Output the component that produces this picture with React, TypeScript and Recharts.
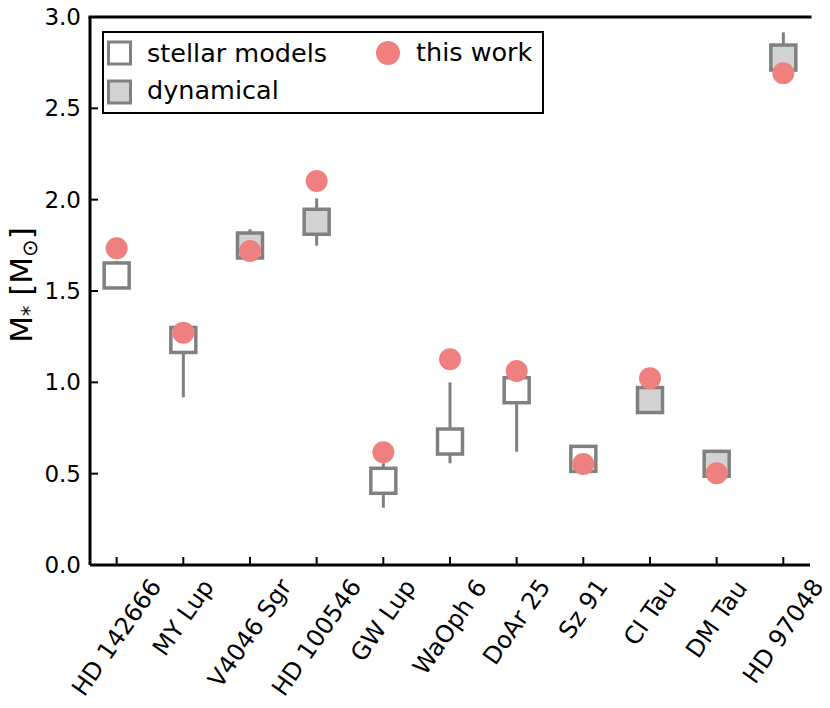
import React from 'react';
import { ComposedChart, ErrorBar, Label, Legend, ReferenceLine, Scatter, XAxis, YAxis } from 'recharts';

const STARS = ['HD 142666', 'MY Lup', 'V4046 Sgr', 'HD 100546', 'GW Lup', 'WaOph 6', 'DoAr 25', 'Sz 91', 'CI Tau', 'DM Tau', 'HD 97048'];
// literature masses and how they were measured
const LIT_MASS = [1.585, 1.232, 1.749, 1.879, 0.461, 0.676, 0.957, 0.581, 0.903, 0.554, 2.778];
const LIT_LOW = [0.05, 0.314, 0.05, 0.131, 0.147, 0.119, 0.337, 0.05, 0.05, 0.05, 0.05];
const LIT_HIGH = [0.08, 0.07, 0.089, 0.128, 0.096, 0.324, 0.05, 0.05, 0.05, 0.05, 0.138];
const LIT_KIND = ['stellar', 'stellar', 'dynamical', 'dynamical', 'stellar', 'stellar', 'stellar', 'stellar', 'dynamical', 'dynamical', 'dynamical'];
const THIS_WORK = [1.734, 1.272, 1.719, 2.102, 0.617, 1.126, 1.062, 0.553, 1.022, 0.502, 2.692];
const Y_TICKS = [0, 0.5, 1, 1.5, 2, 2.5, 3];
const X_TICKS = STARS.map((_, i) => i);

const GRAY = '#808080';
const LIGHT = '#d3d3d3';
const CORAL = '#f08080';
const FONT = '"DejaVu Sans", sans-serif';

const litRows = (kind: string) =>
  LIT_MASS.map((m, i) => ({ idx: i, mass: m, err: [LIT_LOW[i], LIT_HIGH[i]], kind: LIT_KIND[i] })).filter(r => r.kind === kind);
const stellarRows = litRows('stellar');
const dynamicalRows = litRows('dynamical');
const workRows = THIS_WORK.map((m, i) => ({ idx: i, mass: m }));

const squareShape = (fill: string) => (props: any) => {
  const { cx, cy } = props;
  return <rect x={cx - 12.5} y={cy - 12.5} width={25} height={25} fill={fill} stroke={GRAY} strokeWidth={3.5} />;
};
const circleShape = (props: any) => <circle cx={props.cx} cy={props.cy} r={11} fill={CORAL} />;

// rough DejaVu Sans advance widths (em)
const W: Record<string, number> = {
  ' ': 0.318, H: 0.752, D: 0.77, M: 0.863, Y: 0.611, L: 0.557, V: 0.684, S: 0.635, G: 0.775, W: 0.989,
  O: 0.787, A: 0.684, C: 0.698, I: 0.295, T: 0.611, u: 0.634, p: 0.635, g: 0.635, r: 0.411, a: 0.613,
  h: 0.634, o: 0.612, z: 0.525,
};
const textWidth = (s: string, fs: number) => [...s].reduce((a, c) => a + (W[c] ?? 0.636), 0) * fs;

const XTick = (props: any) => {
  const { x, y, payload } = props;
  const name = STARS[payload.value];
  if (!name) return <g />;
  const fs = 24;
  const deg = 55;
  const ang = (deg * Math.PI) / 180;
  const L = textWidth(name, fs);
  const H = L * Math.sin(ang) + fs * Math.cos(ang);
  const cy = y + H / 2;
  return (
    <text x={x} y={cy} textAnchor="middle" dominantBaseline="central" transform={`rotate(-${deg} ${x} ${cy})`}
      fontSize={fs} fontFamily={FONT} fill="#000">
      {name}
    </text>
  );
};

const EmptyTick = () => <g />;

const YLabel = (props: any) => {
  const vb = props.viewBox;
  const x = vb.x + 14;
  const y = vb.y + vb.height / 2 - 6;
  return (
    <text x={x} y={y} transform={`rotate(-90 ${x} ${y})`} textAnchor="middle" fontSize={31} fontFamily={FONT} fill="#000">
      M<tspan fontSize={21} dy={5}>*</tspan>
      <tspan dy={-5}> [M</tspan>
      <tspan fontSize={21} dy={5}>⊙</tspan>
      <tspan dy={-5}>]</tspan>
    </text>
  );
};

const LegendBox = () => (
  <svg width={442} height={83} style={{ display: 'block' }}>
    <rect x={1} y={1} width={440} height={81} fill="#fff" stroke="#000" strokeWidth={2} />
    <rect x={6.5} y={11} width={22} height={22} fill="#fff" stroke={GRAY} strokeWidth={3} />
    <text x={45} y={31} fontSize={25.5} fontFamily={FONT} fill="#000">stellar models</text>
    <rect x={6.5} y={50} width={22} height={22} fill={LIGHT} stroke={GRAY} strokeWidth={3} />
    <text x={45} y={68} fontSize={25.5} fontFamily={FONT} fill="#000">dynamical</text>
    <circle cx={286} cy={22} r={12} fill={CORAL} />
    <text x={314} y={30} fontSize={25.5} fontFamily={FONT} fill="#000">this work</text>
  </svg>
);

export default function App() {
  return (
    <div style={{ position: 'absolute', left: 0, top: 0 }}>
      <ComposedChart width={830} height={708} margin={{ top: 17, right: 20, bottom: 0, left: 18 }}>
        <XAxis
          type="number"
          dataKey="idx"
          domain={[-0.4, 10.4]}
          ticks={X_TICKS}
          interval={0}
          allowDataOverflow
          height={143}
          tick={<XTick />}
          tickSize={-8}
          tickMargin={18}
          axisLine={{ stroke: '#000', strokeWidth: 3 }}
          tickLine={{ stroke: '#000', strokeWidth: 2 }}
        />
        <YAxis
          type="number"
          dataKey="mass"
          domain={[0, 3]}
          ticks={Y_TICKS}
          interval={0}
          allowDataOverflow
          width={72}
          tickFormatter={(v: number) => v.toFixed(1)}
          tick={{ fontSize: 23, fontFamily: FONT, fill: '#000' }}
          tickSize={-8}
          tickMargin={17}
          axisLine={{ stroke: '#000', strokeWidth: 3 }}
          tickLine={{ stroke: '#000', strokeWidth: 2 }}
        >
          <Label content={<YLabel />} />
        </YAxis>
        <YAxis
          yAxisId="right"
          orientation="right"
          type="number"
          domain={[0, 3]}
          ticks={Y_TICKS}
          interval={0}
          width={0}
          tick={<EmptyTick />}
          tickSize={-8}
          axisLine={{ stroke: '#000', strokeWidth: 3 }}
          tickLine={{ stroke: '#000', strokeWidth: 2 }}
        />
        <ReferenceLine y={3} stroke="#000" strokeWidth={3} strokeLinecap="square" ifOverflow="visible" />
        <Legend layout="vertical" verticalAlign="middle" align="center" content={<LegendBox />}
          wrapperStyle={{ left: 102, top: 31, width: 442, height: 83 }} />
        <Scatter name="stellar models" data={stellarRows} dataKey="mass" shape={squareShape('#fff')} isAnimationActive={false}>
          <ErrorBar dataKey="err" direction="y" width={0} stroke={GRAY} strokeWidth={3} />
        </Scatter>
        <Scatter name="dynamical" data={dynamicalRows} dataKey="mass" shape={squareShape(LIGHT)} isAnimationActive={false}>
          <ErrorBar dataKey="err" direction="y" width={0} stroke={GRAY} strokeWidth={3} />
        </Scatter>
        <Scatter name="this work" data={workRows} dataKey="mass" shape={circleShape} isAnimationActive={false} />
      </ComposedChart>
    </div>
  );
}
